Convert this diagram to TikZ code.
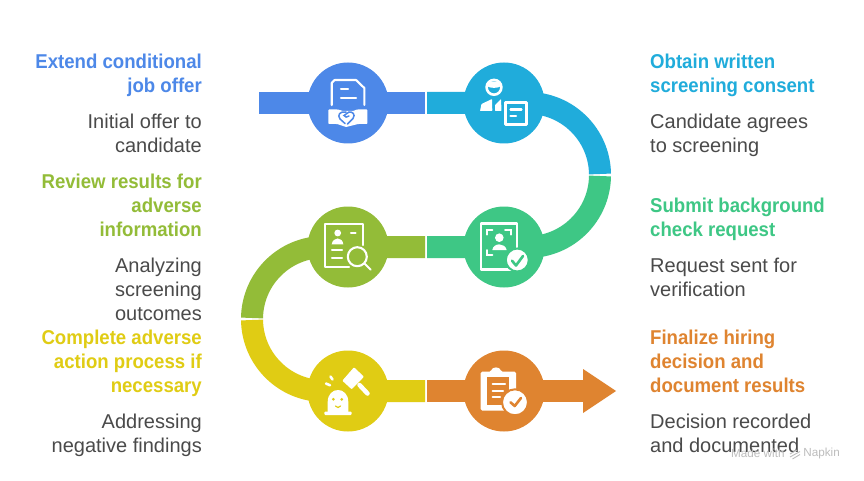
\documentclass[tikz,border=0pt]{standalone}
\usepackage{fontspec}
\setmainfont{Liberation Sans}
\newfontfamily\ttlf[BoldFeatures={FakeStretch=0.93}]{Liberation Sans}
\definecolor{cBlue}{HTML}{4D88E8}
\definecolor{cCyan}{HTML}{20ACDB}
\definecolor{cGreen}{HTML}{3EC785}
\definecolor{cOlive}{HTML}{93BC38}
\definecolor{cYellow}{HTML}{E0CC14}
\definecolor{cOrange}{HTML}{DF8430}
\definecolor{cText}{HTML}{4A4A4A}
\definecolor{cMark}{HTML}{BDBDBD}
\tikzset{
  x=1pt,y=-1pt,
  band/.style={line width=22pt,line cap=butt,line join=miter},
  disc/.style={circle,minimum size=81pt,inner sep=0pt},
  ttl/.style={inner sep=0pt,font=\fontsize{20}{24}\selectfont\ttlf\bfseries},
  dsc/.style={inner sep=0pt,font=\fontsize{20}{24}\selectfont,text=cText},
  lft/.style={anchor=north east,align=right},
  rgt/.style={anchor=north west,align=left},
  ic/.style={draw=white,line width=2.1pt,line cap=round,line join=round},
}
\begin{document}
\begin{tikzpicture}
\useasboundingbox (0,0) rectangle (864,481);
\fill[white] (0,0) rectangle (864,481);
% discs
\node[disc,fill=cBlue] (n1) at (348,103) {};
\node[disc,fill=cCyan] (n2) at (504,103) {};
\node[disc,fill=cGreen] (n3) at (504,247) {};
\node[disc,fill=cOlive] (n4) at (348,247) {};
\node[disc,fill=cYellow] (n5) at (348,391) {};
\node[disc,fill=cOrange] (n6) at (504,391) {};
\coordinate (startA) at (259,103);
\coordinate (gapA) at (425,103);
\coordinate (gapB) at (427,103);
\coordinate (gapC) at (427,247);
\coordinate (gapD) at (425,247);
\coordinate (gapE) at (425,391);
\coordinate (gapF) at (427,391);
\coordinate (shaftEnd) at (584,391);
\coordinate (tip) at (616,391);
% bands
\draw[band,cBlue] (startA) -- (n1.center) -- (gapA);
\draw[band,cCyan] (gapB) -- (n2.center) -- ++(24,0) arc[start angle=90,end angle=0.8,radius=72pt];
\draw[band,cGreen] (gapC) -- (n3.center) -- ++(24,0) arc[start angle=-90,end angle=-0.8,radius=72pt];
\draw[band,cOlive] (gapD) -- (n4.center) -- ++(-24,0) arc[start angle=90,end angle=179.2,radius=72pt];
\draw[band,cYellow] (gapE) -- (n5.center) -- ++(-24,0) arc[start angle=270,end angle=180.8,radius=72pt];
\draw[band,cOrange] (gapF) -- (n6.center) -- (shaftEnd);
\fill[cOrange] (583,369) -- (tip) -- (583,413) -- cycle;
% icon 1
\draw[ic] (331.7,105) -- (331.7,83) -- ++(3,-3) -- (356,80) -- (364.3,88) -- (364.3,105);
\draw[ic] (341,89.3) -- (348,89.3) (341,97.7) -- (356,97.7);
\fill[white,rounded corners=0.8pt] (328.3,109.5) -- (338,109.5) -- (343,111) -- (353,111) -- (357,109.5) -- (367.3,109.5) -- (367.3,124) -- (358,124) -- (346,127) -- (337,124) -- (328.3,124) -- cycle;
\draw[cBlue,line width=1.5pt,line cap=round] (346,112) .. controls (340,111) and (337,115) .. (340,119) -- (345,123.5) (347.5,124) -- (353,118.5) .. controls (356,114) and (352,111.5) .. (349,112) -- (344,115.5) .. controls (345,118) and (347,117) .. (349,116);
% icon 2
\draw[white,line width=2.6pt] (494,87.3) circle[radius=7.4pt];
\fill[white] (486.6,86) .. controls (490,88.5) and (498,88.5) .. (501.4,86) .. controls (501,80) and (487,80) .. (486.6,86) -- cycle;
\fill[white,rounded corners=0.6pt] (480,111) -- (481.5,104) -- (492,99) -- (492.3,111) -- cycle;
\fill[white,rounded corners=0.6pt] (495,111) -- (495,105) -- (501,99) -- (501.5,111) -- cycle;
\draw[ic,fill=cCyan,line width=3pt] (505.5,103) rectangle (526.5,125);
\draw[ic] (510.5,109.5) -- (521.5,109.5) (510.5,116) -- (516,116);
% icon 3
\draw[ic] (481,223.5) rectangle (517,269.5);
\draw[white,line width=1.8pt,line cap=round] (487,234.7) -- (487,230) -- (492.5,230) (505,230) -- (511,230) -- (511,234.7) (487,250) -- (487,255) -- (492.5,255);
\fill[white] (499.3,237.7) circle[radius=4.3pt];
\fill[white] (492.3,250) .. controls (493.5,242.5) and (505,242.5) .. (506.7,250) -- cycle;
\fill[white,draw=cGreen,line width=2pt] (517.3,260) circle[radius=11.5pt];
\draw[cGreen,line width=2.6pt,line cap=round,line join=round] (512,260.7) -- (516,265.5) -- (523,256);
% icon 4
\draw[ic] (363,245) -- (363,224) -- (325,224) -- (325,267) -- (349,267);
\fill[white] (337.7,233) circle[radius=3.4pt];
\draw[ic] (351,233) -- (355.5,233);
\fill[white] (331.7,244.3) .. controls (333,236.5) and (342.5,236.5) .. (343.3,244.3) -- cycle;
\draw[ic] (332,250) -- (342,250) (332,257.7) -- (342,257.7);
\draw[ic] (357.3,256.7) circle[radius=9.5pt];
\draw[ic] (364.5,263.5) -- (370.7,269.7);
% icon 5
\fill[white] (327.7,412) -- (327.7,402) .. controls (327.7,386) and (348.3,386) .. (348.3,402) -- (348.3,412) -- cycle;
\fill[white,rounded corners=1pt] (324.3,411.5) rectangle (351.7,415);
\fill[cYellow] (333.3,399.3) circle[radius=1.5pt] (341.7,399.3) circle[radius=1.5pt];
\draw[cYellow,line width=1.2pt,line cap=round] (335.5,406) .. controls (337,408) and (339,408) .. (340.5,406);
\fill[white,rounded corners=0.8pt] (342.3,380.7) -- (354,367.3) -- (364,376.7) -- (351.7,389.3) -- cycle;
\draw[white,line width=4.5pt,line cap=round] (359.5,385) -- (367.5,393.5);
\draw[white,line width=2.6pt,line cap=round] (330.5,376.5) -- (332.5,379.5) (326,383.5) -- (330,385.3);
% icon 6
\fill[white,rounded corners=1.5pt] (480.7,371.7) -- (491,371.7) .. controls (492,366.5) and (500,366.5) .. (501,371.7) -- (516,371.7) -- (516,410.7) -- (480.7,410.7) -- cycle;
\fill[cOrange] (486.7,377.3) rectangle (509.3,405);
\draw[ic] (492.7,384) -- (505,384) (492.7,390.7) -- (503,390.7) (492.7,397.3) -- (500,397.3);
\fill[white,draw=cOrange,line width=2pt] (515,402.3) circle[radius=13pt];
\draw[cOrange,line width=2.6pt,line cap=round,line join=round] (510.5,402.3) -- (514.7,406) -- (521,398);
% text left
\node[ttl,lft,text=cBlue] (tA) at (202,53.5) {Extend conditional\\job offer};
\node[dsc,lft] (dA) at (202,113.5) {Initial offer to\\candidate};
\node[ttl,lft,text=cOlive] (tD) at (202,173.5) {Review results for\\adverse\\information};
\node[dsc,lft] (dD) at (202,257.5) {Analyzing\\screening\\outcomes};
\node[ttl,lft,text=cYellow] (tE) at (202,329.5) {Complete adverse\\action process if\\necessary};
\node[dsc,lft] (dE) at (202,413.5) {Addressing\\negative findings};
% text right
\node[ttl,rgt,text=cCyan] (tB) at (650,53.5) {Obtain written\\screening consent};
\node[dsc,rgt] (dB) at (650,113.5) {Candidate agrees\\to screening};
\node[ttl,rgt,text=cGreen] (tC) at (650,197.5) {Submit background\\check request};
\node[dsc,rgt] (dC) at (650,257.5) {Request sent for\\verification};
\node[ttl,rgt,text=cOrange] (tF) at (650,329.5) {Finalize hiring\\decision and\\document results};
\node[dsc,rgt] (dF) at (650,413.5) {Decision recorded\\and documented};
% watermark
\node[inner sep=0pt,anchor=west,text=cMark,font=\fontsize{11.7}{13}\selectfont] (wmA) at (731,453.5) {Made with};
\node[inner sep=0pt,anchor=east,text=cMark,font=\fontsize{11.7}{13}\selectfont] (wmB) at (840,453.5) {Napkin};
\draw[cMark,line width=0.9pt] (790,454) -- (797,450) (790,457) -- (800,451.5) (792.5,459) -- (800,454.5);
\end{tikzpicture}
\end{document}
